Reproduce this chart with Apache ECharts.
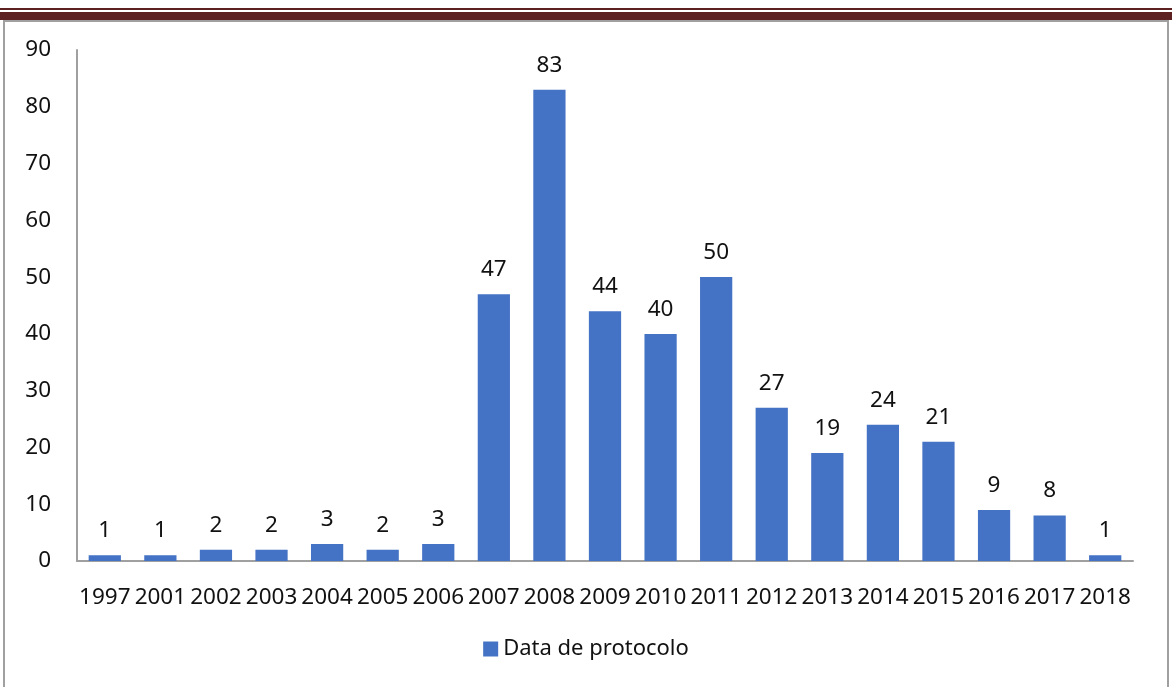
<!DOCTYPE html>
<html><head><meta charset="utf-8">
<script src="https://cdn.jsdelivr.net/npm/echarts@6/dist/echarts.min.js"></script>
<style>html,body{margin:0;padding:0;background:#fff}#c{width:1172px;height:687px}</style>
</head><body><div id="c"></div>
<script>
const categories = ['1997','2001','2002','2003','2004','2005','2006','2007','2008','2009','2010','2011','2012','2013','2014','2015','2016','2017','2018'];
const values = [1,1,2,2,3,2,3,47,83,44,40,50,27,19,24,21,9,8,1];
const seriesName = 'Data de protocolo';
const yTicks = {min:0, max:90, interval:10};

const chart = echarts.init(document.getElementById('c'));
const font = 'Noto Sans, Lato, sans-serif';
chart.setOption({
  animation:false,
  backgroundColor:'#fff',
  textStyle:{fontFamily:font},
  graphic:[
    {type:'rect', shape:{x:0,y:8,width:1172,height:2}, style:{fill:'#5e2121'}},
    {type:'rect', shape:{x:0,y:12,width:1172,height:8}, style:{fill:'#5e2121'}},
    {type:'rect', shape:{x:4,y:21,width:1164,height:680}, style:{fill:'none',stroke:'#a0a0a0',lineWidth:2}}
  ],
  grid:{left:77,right:39,top:50,bottom:126,containLabel:false},
  legend:{bottom:22,left:'center',itemWidth:15,itemHeight:15,itemGap:6,
    textStyle:{fontSize:22,color:'#111',fontFamily:font},data:[{name:seriesName,icon:'rect'}]},
  xAxis:{type:'category',data:categories,
    axisLine:{lineStyle:{color:'#a0a0a0',width:2}},axisTick:{show:false},
    axisLabel:{interval:0,fontSize:22.5,color:'#111',margin:25,fontFamily:font}},
  yAxis:{type:'value',min:yTicks.min,max:yTicks.max,interval:yTicks.interval,
    axisLine:{show:true,lineStyle:{color:'#a0a0a0',width:2}},axisTick:{show:false},
    splitLine:{show:false},
    axisLabel:{fontSize:22.5,color:'#111',margin:26,fontFamily:font}},
  series:[{name:seriesName,type:'bar',data:values,barWidth:'58%',
    itemStyle:{color:'#4472C4'},
    label:{show:true,position:'top',distance:13,fontSize:22.5,color:'#111',fontFamily:font}}]
});
</script></body></html>
